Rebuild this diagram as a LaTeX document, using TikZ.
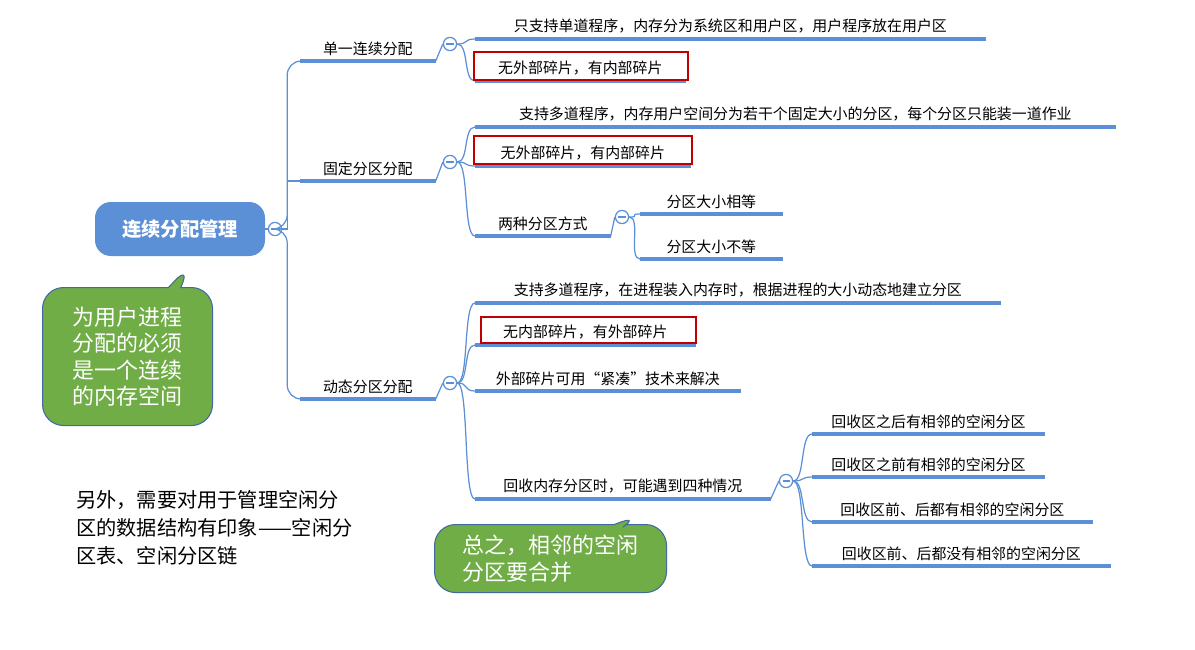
\documentclass[tikz,border=0pt]{standalone}
\usepackage{fontspec}
\setmainfont{Noto Sans CJK SC}
\usetikzlibrary{shapes.callouts}

\definecolor{mapblue}{RGB}{91,143,214}
\definecolor{notegreen}{RGB}{112,173,71}
\definecolor{noteedge}{RGB}{65,105,160}
\definecolor{markred}{RGB}{192,0,0}

\tikzset{
  leaf/.style={anchor=south west, inner xsep=18pt*0.6, inner ysep=3pt, font=\fontsize{8.5}{10}\selectfont, align=left},
  uline/.style={mapblue, line width=2.2pt},
  link/.style={mapblue, line width=0.7pt},
  fold/.style={circle, draw=mapblue, line width=0.7pt, fill=white, minimum size=7.5pt, inner sep=0pt,
    path picture={\draw[mapblue, line width=0.6pt] ([xshift=-2pt]path picture bounding box.center) -- ([xshift=2pt]path picture bounding box.center);}},
  redbox/.style={draw=markred, line width=1.6pt},
  note/.style={rectangle callout, rounded corners=12pt, fill=notegreen, draw=noteedge, line width=0.6pt,
    text=white, align=left, font=\fontsize{12.5}{15}\selectfont, inner xsep=8pt, inner ysep=6pt}
}

\begin{document}
\begin{tikzpicture}[x=0.02cm,y=-0.02cm]
\useasboundingbox (0,0) rectangle (1195,649);

% root and its fold mark
\node[fill=mapblue, rounded corners=9pt, minimum width=170*0.02cm, minimum height=54*0.02cm,
  text=white, font=\fontsize{11}{13}\selectfont\bfseries] (root) at (180,229) {连续分配管理};
\node[fold] (rf) at (275,229) {};

% first level
\node[leaf, minimum width=135*0.02cm] (b1) at (300,61) {单一连续分配};
\node[leaf, minimum width=135*0.02cm] (b2) at (300,181) {固定分区分配};
\node[leaf, minimum width=135*0.02cm] (b3) at (300,399) {动态分区分配};
\node[fold] (f1) at (450,44) {};
\node[fold] (f2) at (450,162) {};
\node[fold] (f3) at (450,383) {};

\draw[link] (root) -- (rf);
\draw[link, rounded corners=8pt] (rf.east) -- ++(5,0) |- (b1.south west);
\draw[link] (rf.east) -- ++(5,0) |- (b2.south west);
\draw[link, rounded corners=8pt] (rf.east) -- ++(5,0) |- (b3.south west);

% second level
\node[leaf, minimum width=510*0.02cm] (a1) at (475,39) {只支持单道程序，内存分为系统区和用户区，用户程序放在用户区};
\node[leaf, minimum width=210*0.02cm] (a2) at (475,81) {无外部碎片，有内部碎片};
\node[leaf, minimum width=640*0.02cm] (c1) at (475,127) {支持多道程序，内存用户空间分为若干个固定大小的分区，每个分区只能装一道作业};
\node[leaf, minimum width=215*0.02cm] (c2) at (475,166) {无外部碎片，有内部碎片};
\node[leaf, minimum width=135*0.02cm] (c3) at (475,236) {两种分区方式};
\node[fold] (f4) at (622,217) {};
\node[leaf, minimum width=142*0.02cm] (d1) at (640,214) {分区大小相等};
\node[leaf, minimum width=142*0.02cm] (d2) at (640,259) {分区大小不等};
\node[leaf, minimum width=525*0.02cm] (e1) at (475,303) {支持多道程序，在进程装入内存时，根据进程的大小动态地建立分区};
\node[leaf, minimum width=220*0.02cm] (e2) at (475,345) {无内部碎片，有外部碎片};
\node[leaf, minimum width=265*0.02cm] (e3) at (475,391) {外部碎片可用“紧凑”技术来解决};
\node[leaf, minimum width=295*0.02cm] (e4) at (475,499) {回收内存分区时，可能遇到四种情况};
\node[fold] (f5) at (786,481) {};
\node[leaf, minimum width=200*0.02cm] (g1) at (812,434) {回收区之后有相邻的空闲分区};
\node[leaf, minimum width=230*0.02cm] (g2) at (812,477) {回收区之前有相邻的空闲分区};
\node[leaf, minimum width=280*0.02cm] (g3) at (812,522) {回收区前、后都有相邻的空闲分区};
\node[leaf, minimum width=298*0.02cm] (g4) at (812,566) {回收区前、后都没有相邻的空闲分区};

% underlines
\foreach \n in {b1,b2,b3,a1,a2,c1,c2,c3,d1,d2,e1,e2,e3,e4,g1,g2,g3,g4}
  \draw[uline] (\n.south west) -- (\n.south east);

% links from fold marks
\foreach \f/\n in {f1/a1,f1/a2,f2/c1,f2/c2,f2/c3,f4/d1,f4/d2,f3/e1,f3/e2,f3/e3,f3/e4,f5/g1,f5/g2,f5/g3,f5/g4}
  \draw[link] (\f.east) .. controls +(12,0) and +(-12,0) .. (\n.south west);
\foreach \n/\f in {b1/f1,b2/f2,b3/f3,c3/f4,e4/f5}
  \draw[link] (\n.south east) -- (\f.west);

% red marks
\draw[redbox] (474,52) rectangle (688,80);
\draw[redbox] (474,136) rectangle (692,164);
\draw[redbox] (481,317) rectangle (696,343);

% notes
\node[note, minimum width=170*0.02cm, minimum height=138*0.02cm, anchor=north west,
  callout absolute pointer={(190,265)}] (n1) at (42,287) {为用户进程\\分配的必须\\是一个连续\\的内存空间};
\node[note, minimum width=232*0.02cm, minimum height=68*0.02cm, anchor=north west,
  callout absolute pointer={(640,515)}] (n2) at (434,524) {总之，相邻的空闲\\分区要合并};
\node[anchor=north west, align=left, font=\fontsize{11.5}{16}\selectfont] (t1) at (70,484)
  {另外，需要对用于管理空闲分\\区的数据结构有印象——空闲分\\区表、空闲分区链};
\end{tikzpicture}
\end{document}
